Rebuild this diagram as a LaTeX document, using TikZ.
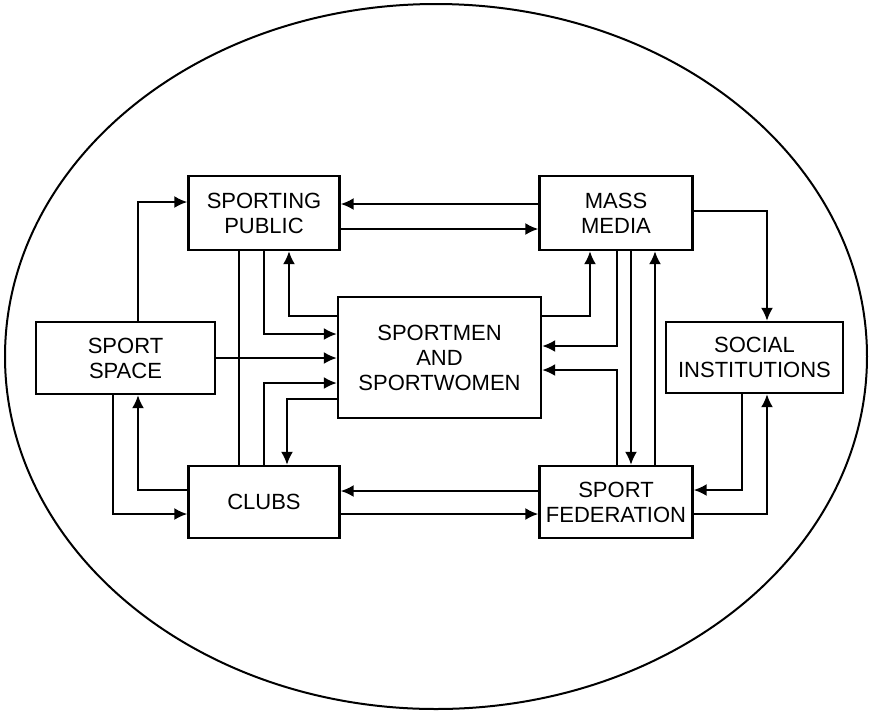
\documentclass[tikz,border=0pt]{standalone}
\usepackage{fontspec}
\setmainfont{Liberation Sans}
\usetikzlibrary{arrows.meta}

\tikzset{
    block/.style={draw, rectangle, line width=1.2pt, align=center, inner sep=2pt,
        font=\fontsize{11}{12.5}\selectfont},
    arr/.style={-{Latex[length=6.5pt,width=6pt]}, line width=1pt},
    link/.style={line width=1pt}
}

\begin{document}
\begin{tikzpicture}[x=0.5pt, y=-0.5pt]
    \useasboundingbox (0,0) rectangle (869,714);
    \draw[line width=1pt] (436,356.5) ellipse [x radius=215.5pt, y radius=176.25pt];

    % Nodes
    \node[block, minimum width=75.5pt, minimum height=37pt] (pub) at (264,213) {SPORTING\\PUBLIC};
    \node[block, minimum width=76.5pt, minimum height=37pt] (media) at (616,213) {MASS\\MEDIA};
    \node[block, minimum width=89.5pt, minimum height=36pt] (space) at (125.5,358) {SPORT\\SPACE};
    \node[block, minimum width=101.5pt, minimum height=60.5pt] (sport) at (439.5,357.5) {SPORTMEN\\AND\\SPORTWOMEN};
    \node[block, minimum width=88.5pt, minimum height=35.5pt] (soc) at (754.5,357.5) {SOCIAL\\INSTITUTIONS};
    \node[block, minimum width=75.5pt, minimum height=36pt] (clubs) at (264,502) {CLUBS};
    \node[block, minimum width=76.5pt, minimum height=36pt] (fed) at (616,502) {SPORT\\FEDERATION};

    % Arrows
    \draw[arr] (space.north -| 138,0) |- (pub.west |- 0,202);
    \draw[arr] (media.west |- 0,204) -- (pub.east |- 0,204);
    \draw[arr] (pub.east |- 0,229) -- (media.west |- 0,229);
    \draw[link] (pub.south -| 239,0) -- (clubs.north -| 239,0);
    \draw[arr] (pub.south -| 264,0) |- (sport.west |- 0,334);
    \draw[arr] (sport.west |- 0,316) -| (pub.south -| 289,0);
    \draw[arr] (space.east) -- (sport.west |- space.east);
    \draw[arr] (clubs.north -| 264,0) |- (sport.west |- 0,383);
    \draw[arr] (sport.west |- 0,399) -| (clubs.north -| 287,0);
    \draw[arr] (clubs.west |- 0,490) -| (space.south -| 138,0);
    \draw[arr] (space.south -| 113,0) |- (clubs.west |- 0,514);
    \draw[arr] (fed.west |- 0,491) -- (clubs.east |- 0,491);
    \draw[arr] (clubs.east |- 0,514) -- (fed.west |- 0,514);
    \draw[arr] (sport.east |- 0,316) -| (media.south -| 590,0);
    \draw[arr] (media.south -| 617,0) |- (sport.east |- 0,346);
    \draw[arr] (media.south -| 631,0) -- (fed.north -| 631,0);
    \draw[arr] (fed.north -| 655,0) -- (media.south -| 655,0);
    \draw[arr] (fed.north -| 617,0) |- (sport.east |- 0,370);
    \draw[arr] (media.east |- 0,211) -| (soc.north -| 767,0);
    \draw[arr] (soc.south -| 742,0) |- (fed.east |- 0,490);
    \draw[arr] (fed.east |- 0,514) -| (soc.south -| 767,0);
\end{tikzpicture}
\end{document}
